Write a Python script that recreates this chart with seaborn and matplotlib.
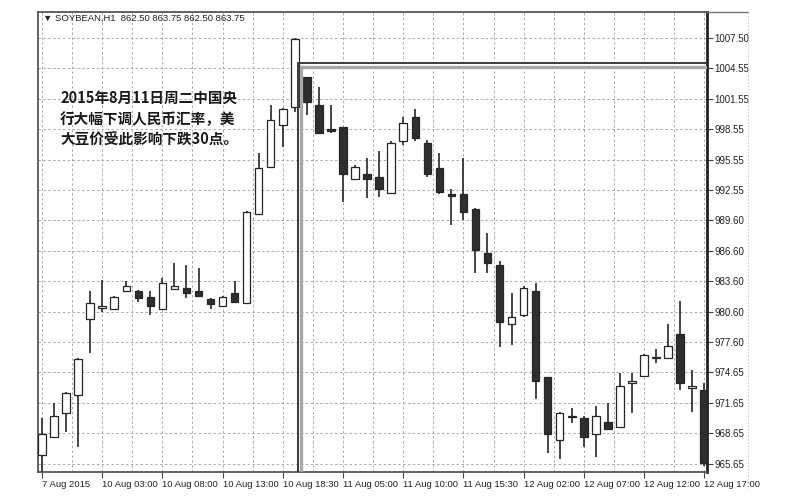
"""
SOYBEAN H1 — bougies du 7 au 12 août 2015 (baisse après la dévaluation du yuan).
Sortie : out.png
"""

import numpy as np
import pandas as pd
import matplotlib
matplotlib.use("Agg")
import matplotlib.pyplot as plt
import seaborn as sns
from matplotlib.patches import Rectangle

# ── Données OHLC (une bougie par heure) ────────────────────────────────
opens = [966.5, 968.25, 970.6, 972.4, 979.85, 981.0, 980.85, 982.6, 982.6, 982.05,
         980.85, 982.8, 982.9, 982.6, 981.85, 981.15, 982.45, 981.45, 990.2, 994.8,
         998.95, 1000.7, 1003.65, 1000.9, 998.45, 998.75, 993.65, 994.15, 993.85, 992.25,
         997.35, 999.75, 997.2, 994.7, 992.1, 992.15, 990.7, 986.35, 985.2, 979.4,
         980.25, 982.6, 974.15, 967.95, 970.2, 970.15, 968.55, 969.75, 969.25, 973.55,
         974.25, 976.1, 976.05, 978.4, 973.1, 972.9]
highs = [970.1, 971.6, 972.7, 976.0, 982.6, 983.7, 982.1, 983.6, 982.7, 982.6,
         983.9, 985.4, 985.2, 984.9, 981.9, 982.1, 983.6, 990.5, 996.2, 1000.9,
         1000.6, 1007.5, 1003.7, 1002.7, 1000.9, 998.8, 995.0, 995.7, 996.4, 997.4,
         999.75, 1000.5, 997.45, 996.2, 992.65, 995.7, 990.8, 988.35, 985.55, 982.45,
         983.1, 983.4, 974.2, 970.7, 971.1, 970.35, 971.3, 971.6, 974.55, 974.55,
         976.4, 976.9, 979.4, 981.65, 974.85, 973.6]
lows = [964.5, 968.2, 968.75, 967.3, 976.5, 980.55, 980.8, 982.6, 981.55, 980.25,
        980.8, 982.8, 981.95, 982.1, 980.85, 981.1, 981.4, 981.3, 990.1, 994.7,
        996.8, 1000.2, 999.9, 998.1, 998.15, 991.35, 993.6, 991.75, 991.85, 992.2,
        996.95, 997.35, 993.8, 992.15, 989.1, 989.6, 984.4, 984.4, 977.1, 977.3,
        980.05, 972.0, 966.7, 966.1, 969.65, 967.3, 966.3, 969.0, 969.2, 970.6,
        974.15, 975.55, 975.9, 972.9, 970.7, 965.4]
closes = [968.55, 970.35, 972.6, 975.95, 981.45, 981.05, 982.05, 983.1, 981.95, 981.15,
          983.4, 983.1, 982.45, 982.15, 981.35, 982.05, 981.55, 990.4, 994.7, 999.45,
          1000.5, 1007.4, 1001.2, 998.15, 998.4, 994.15, 994.8, 993.65, 992.65, 997.2,
          999.15, 997.65, 994.15, 992.35, 992.0, 990.4, 986.65, 985.4, 979.55, 980.05,
          982.9, 973.75, 968.55, 970.65, 970.25, 968.25, 970.35, 969.05, 973.3, 973.75,
          976.35, 976.0, 977.2, 973.6, 973.3, 965.7]

time_ticks = [0, 5, 10, 15, 20, 25, 30, 35, 40, 45, 50, 55]
time_labels = ["7 Aug 2015", "10 Aug 03:00", "10 Aug 08:00", "10 Aug 13:00",
               "10 Aug 18:30", "11 Aug 05:00", "11 Aug 10:00", "11 Aug 15:30",
               "12 Aug 02:00", "12 Aug 07:00", "12 Aug 12:00", "12 Aug 17:00"]
price_ticks = [1007.50, 1004.55, 1001.55, 998.55, 995.55, 992.55, 989.60, 986.60,
               983.60, 980.60, 977.60, 974.65, 971.65, 968.65, 965.65]
price_labels = [f"{p:.2f}" for p in price_ticks]

header = "▼ SOYBEAN,H1  862.50 863.75 862.50 863.75"
note_lines = ["2015年8月11日周二中国央", "行大幅下调人民币汇率，美", "大豆价受此影响下跌30点。"]

# zone encadrée (après le pic du 10 août)
box_start, box_top = 21.3, 1005.0

df = pd.DataFrame({"o": opens, "h": highs, "l": lows, "c": closes})
df["i"] = np.arange(len(df))
df["up"] = df["c"] >= df["o"]
df["bottom"] = df[["o", "c"]].min(axis=1)
df["height"] = (df["c"] - df["o"]).abs().clip(lower=0.12)

sns.set_theme(style="white")
plt.rcParams["font.family"] = ["Liberation Sans", "DejaVu Sans"]

fig = plt.figure(figsize=(8.04, 4.98), dpi=100)
fig.patch.set_facecolor("white")
ax = fig.add_axes([38 / 804, 1 - 472 / 498, (707 - 38) / 804, (472 - 12) / 498])
ax.set_facecolor("white")

# ── Bougies ─────────────────────────────────────────────────────────
dark = "#262626"
ax.vlines(df["i"], df["l"], df["h"], color=dark, linewidth=1.2, zorder=2)
ax.bar(df["i"], df["height"], bottom=df["bottom"], width=0.62,
       color=np.where(df["up"], "white", "#2e2e2e"), edgecolor=dark,
       linewidth=0.9, zorder=3)

# ── Rectangle ───────────────────────────────────────────────────────
ax.add_patch(Rectangle((box_start + 0.22, 960), 60, box_top - 0.3 - 960,
                       fill=False, edgecolor="#a8a8a8", linewidth=2.4, zorder=4))
ax.add_patch(Rectangle((box_start, 960), 60, box_top - 960,
                       fill=False, edgecolor="#3a3a3a", linewidth=1.4, zorder=5))

# ── Axes ────────────────────────────────────────────────────────────
ax.set_xticks(time_ticks)
ax.set_xticklabels(time_labels, ha="left", fontsize=6.8, color="#222")
ax.set_xticks([t + 2.5 for t in time_ticks[:-1]], minor=True)
ax.yaxis.tick_right()
ax.set_yticks(price_ticks)
ax.set_yticklabels(price_labels, fontsize=7, color="#222")
ax.set_xlim(-0.33, 55.23)
ax.set_ylim(964.83, 1010.06)
ax.tick_params(axis="x", which="major", direction="out", length=4, width=0.8,
               pad=2, color="#444", bottom=True)
ax.tick_params(axis="x", which="minor", length=0)
ax.tick_params(axis="y", direction="out", length=4, width=0.8, pad=1.5,
               color="#444", right=True, left=False)

grid_kw = dict(color="#a9a9a9", linestyle=(0, (2.5, 2.5)), linewidth=0.7)
ax.grid(True, axis="x", which="both", **grid_kw)
ax.grid(True, axis="y", which="major", **grid_kw)
ax.set_axisbelow(True)

for side in ["left", "top", "bottom"]:
    ax.spines[side].set_color("#555")
    ax.spines[side].set_linewidth(1.3)
ax.spines["right"].set_color("#222")
ax.spines["right"].set_linewidth(2.0)

# cadre de la fenêtre (zone des prix)
fig.add_artist(plt.Line2D([707 / 804, 748 / 804], [1 - 12 / 498] * 2,
                          color="#777", linewidth=1.0))
fig.add_artist(plt.Line2D([748 / 804] * 2, [1 - 12 / 498, 1 - 490 / 498],
                          color="#bbb", linewidth=0.8, linestyle=(0, (1, 2))))

# ── Textes ──────────────────────────────────────────────────────────
ax.text(0.0075, 0.987, header, transform=ax.transAxes, ha="left", va="center",
        fontsize=6.8, color="#222")
for k, line in enumerate(note_lines):
    ax.text(0.033, 0.813 - k * 0.0455, line, transform=ax.transAxes,
            ha="left", va="center", fontsize=10.5, fontweight="bold",
            family=["Noto Sans CJK SC", "DejaVu Sans"], color="#1a1a1a", zorder=6)

fig.savefig("out.png", dpi=100)
plt.close()
